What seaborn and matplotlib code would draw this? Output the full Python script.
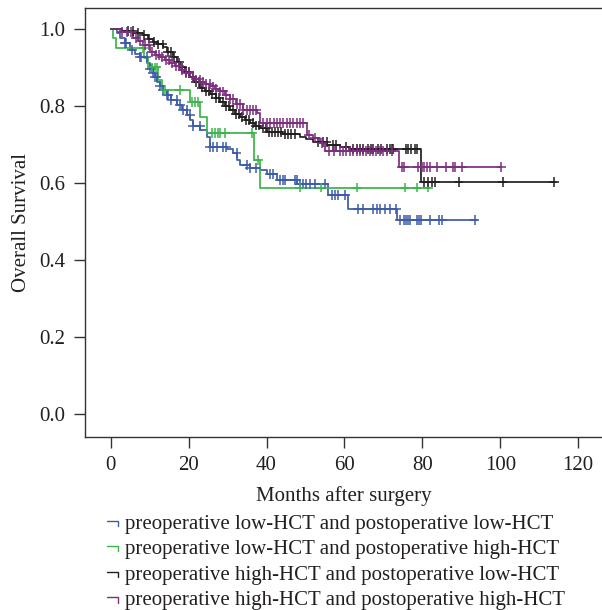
import numpy as np
import pandas as pd
import matplotlib
matplotlib.use('Agg')
import matplotlib.pyplot as plt
from matplotlib.legend_handler import HandlerBase
from matplotlib.lines import Line2D
import seaborn as sns

sns.set_theme(style='ticks')
plt.rcParams['font.family'] = ['Liberation Serif', 'DejaVu Serif']

# group names and colours
groups = ['preoperative low-HCT and postoperative low-HCT',
          'preoperative low-HCT and postoperative high-HCT',
          'preoperative high-HCT and postoperative low-HCT',
          'preoperative high-HCT and postoperative high-HCT']
colors = ['#3D5CA8', '#3CB54A', '#231F20', '#7D2E7F']

# step curves (time in months, survival after the step), last point = end of follow-up
low_low_t = [0, 1.5, 2.4, 3.7, 4.9, 6.3, 7.5, 9.3, 10.1, 10.8, 11.4, 12.0, 12.6, 13.5, 14.4,
             15.6, 17.0, 18.3, 19.6, 20.4, 21.1, 23.0, 24.7, 25.5, 29.8, 31.4, 32.4, 33.2,
             35.7, 38.3, 40.1, 42.6, 47.8, 55.7, 60.8, 73.4, 93.9]
low_low_s = [1.0, 0.99, 0.977, 0.964, 0.945, 0.935, 0.927, 0.912, 0.897, 0.886, 0.874, 0.862,
             0.852, 0.842, 0.829, 0.816, 0.803, 0.79, 0.777, 0.764, 0.748, 0.738, 0.72, 0.694,
             0.688, 0.678, 0.66, 0.647, 0.639, 0.634, 0.624, 0.608, 0.598, 0.569, 0.532,
             0.504, 0.504]

low_high_t = [0, 0.6, 1.4, 8.6, 9.6, 12.1, 13.2, 20.3, 22.9, 24.6, 36.9, 38.4, 81.9]
low_high_s = [1.0, 0.977, 0.95, 0.925, 0.90, 0.867, 0.842, 0.81, 0.771, 0.73, 0.66, 0.588, 0.588]

high_low_t = [0, 3.0, 6.0, 8.3, 9.5, 10.8, 12.0, 13.4, 14.5, 16.0, 17.0, 17.8, 19.0, 20.3,
              21.5, 22.9, 24.2, 25.5, 27.0, 28.0, 29.3, 30.6, 32.0, 33.2, 34.5, 35.7, 37.0,
              38.2, 40.0, 44.0, 48.5, 50.0, 51.9, 55.5, 58.8, 61.4, 79.6, 114.2]
high_low_s = [1.0, 0.995, 0.99, 0.984, 0.975, 0.966, 0.96, 0.952, 0.94, 0.927, 0.913, 0.90,
              0.888, 0.876, 0.862, 0.848, 0.838, 0.83, 0.82, 0.81, 0.80, 0.79, 0.78, 0.771,
              0.763, 0.756, 0.749, 0.742, 0.732, 0.727, 0.72, 0.713, 0.706, 0.699, 0.694,
              0.688, 0.603, 0.603]

high_high_t = [0, 2.5, 5.7, 7.0, 8.3, 10.1, 11.3, 12.6, 13.9, 15.2, 16.5, 17.8, 19.0, 20.3,
               21.6, 22.9, 24.2, 25.5, 26.8, 28.0, 29.3, 30.6, 32.2, 33.9, 37.5, 38.3, 50.3,
               51.9, 53.7, 55.0, 73.9, 100.3]
high_high_s = [1.0, 0.992, 0.977, 0.968, 0.958, 0.94, 0.933, 0.927, 0.92, 0.912, 0.903, 0.894,
               0.885, 0.876, 0.869, 0.863, 0.857, 0.851, 0.845, 0.838, 0.828, 0.818, 0.805,
               0.79, 0.782, 0.756, 0.725, 0.717, 0.704, 0.683, 0.642, 0.642]

# censored observations (months)
low_low_c = [3.7, 4.0, 5.4, 7.5, 7.9, 9.2, 10.1, 10.5, 10.9, 11.4, 11.8, 12.6, 13.5, 14.4,
             14.8, 15.6, 16.9, 17.8, 18.6, 19.5, 20.3, 21.2, 22.9, 25.5, 26.3, 27.2, 28.9,
             29.7, 32.3, 34.9, 35.7, 37.4, 40.8, 41.7, 43.4, 44.2, 44.7, 47.3, 47.7, 48.5,
             49.4, 50.2, 51.1, 52.4, 54.9, 56.7, 57.5, 58.3, 60.1, 63.4, 64.7, 67.2, 68.3,
             69.0, 70.3, 71.6, 73.2, 74.2, 75.2, 75.7, 76.2, 76.8, 78.5, 79.1, 79.6, 81.9,
             84.2, 85.0, 93.4]
low_high_c = [8.4, 10.5, 11.4, 11.8, 13.9, 17.8, 20.8, 21.6, 22.5, 25.9, 26.7, 27.6, 28.0,
              29.3, 36.2, 37.8, 48.5, 54.1, 63.1, 75.5, 78.5, 81.4]
high_low_c = [4.4, 5.8, 7.1, 8.6, 9.9, 11.2, 12.1, 13.3, 14.6, 15.4, 16.3, 17.5, 18.4, 19.2,
              20.1, 21.0, 21.8, 22.7, 23.5, 24.4, 25.2, 26.1, 27.0, 27.8, 28.7, 29.5, 30.4,
              31.3, 32.1, 33.0, 33.8, 34.7, 35.5, 36.4, 37.3, 38.1, 39.0, 39.8, 40.6, 41.3,
              42.1, 43.0, 43.8, 44.7, 45.5, 46.4, 47.3, 53.2, 54.5, 55.4, 57.1, 57.9, 60.5,
              62.2, 63.1, 63.9, 64.8, 66.1, 66.9, 67.4, 68.6, 69.5, 70.8, 71.6, 72.1, 72.5,
              75.9, 76.3, 77.2, 78.1, 78.5, 80.3, 81.4, 82.4, 83.2, 89.3, 100.6, 113.7]
high_high_c = [2.8, 4.1, 5.3, 6.4, 7.6, 8.8, 9.7, 10.6, 11.5, 12.4, 13.2, 14.1, 15.0, 15.8,
               16.7, 17.6, 18.4, 19.3, 20.2, 21.0, 21.9, 22.8, 23.6, 24.5, 25.4, 26.2, 27.1,
               28.0, 28.8, 29.7, 30.6, 31.4, 32.3, 33.2, 34.0, 34.9, 35.8, 36.6, 37.4, 39.2,
               40.1, 41.0, 41.8, 42.7, 43.4, 44.2, 45.2, 46.0, 46.8, 47.8, 48.5, 49.3, 50.8,
               52.5, 54.2, 56.0, 57.3, 58.8, 59.6, 60.5, 61.4, 62.2, 63.1, 63.9, 64.8, 65.6,
               66.5, 67.3, 68.2, 69.1, 69.9, 70.8, 72.1, 74.7, 75.2, 78.8, 79.8, 80.4, 81.2,
               82.0, 83.7, 86.0, 87.8, 88.3, 90.1, 100.3]

curves = [(low_low_t, low_low_s, low_low_c), (low_high_t, low_high_s, low_high_c),
          (high_low_t, high_low_s, high_low_c), (high_high_t, high_high_s, high_high_c)]

step_rows = []
cens_rows = []
for name, (t, s, c) in zip(groups, curves):
    for ti, si in zip(t, s):
        step_rows.append((name, ti, si))
    t_arr = np.array(t)
    for ci in c:
        idx = np.searchsorted(t_arr, ci, side='right') - 1
        cens_rows.append((name, ci, s[idx]))
steps = pd.DataFrame(step_rows, columns=['group', 'month', 'surv'])
cens = pd.DataFrame(cens_rows, columns=['group', 'month', 'surv'])

fig = plt.figure(figsize=(6.02, 6.10), dpi=100)
ax = fig.add_axes([85 / 602, 1 - 437 / 610, 1 - 85 / 602, (437 - 8) / 610])
palette = dict(zip(groups, colors))

sns.lineplot(data=steps, x='month', y='surv', hue='group', palette=palette, ax=ax,
             estimator=None, sort=False, drawstyle='steps-post', linewidth=1.25, legend=False)
sns.scatterplot(data=cens, x='month', y='surv', hue='group', palette=palette, ax=ax,
                marker='+', s=48, linewidth=1.1, legend=False, zorder=3)

ax.set_xlim(-6.6, 126.1)
ax.set_ylim(-0.0597, 1.0545)
ax.set_xticks([0, 20, 40, 60, 80, 100, 120])
ax.set_yticks([0.0, 0.2, 0.4, 0.6, 0.8, 1.0])
ax.set_yticklabels(['0.0', '0.2', '0.4', '0.6', '0.8', '1.0'])
ax.spines['right'].set_visible(False)
for sp in ['left', 'bottom', 'top']:
    ax.spines[sp].set_color('#333333')
    ax.spines[sp].set_linewidth(1.0)
ax.tick_params(direction='out', length=8, width=1.0, color='#333333', labelsize=15,
               labelcolor='#231F20', pad=6)
ax.set_xlabel('Months after surgery', fontsize=15, color='#231F20', labelpad=8)
ax.set_ylabel('Overall Survival', fontsize=15, color='#231F20', labelpad=6)


class StepHandler(HandlerBase):
    def create_artists(self, legend, orig_handle, xdescent, ydescent, width, height,
                       fontsize, trans):
        x0 = -xdescent
        y0 = -ydescent + height * 0.55
        line = Line2D([x0, x0 + width, x0 + width], [y0, y0, y0 - height * 0.35],
                      color=orig_handle.get_color(), linewidth=1.0, transform=trans)
        return [line]


handles = [Line2D([], [], color=c) for c in colors]
fig.legend(handles, groups, loc='upper left', bbox_to_anchor=(107 / 602, 1 - 514 / 610),
           frameon=False, fontsize=15, handlelength=0.55, handletextpad=0.3,
           labelspacing=0.29, borderpad=0, borderaxespad=0,
           handler_map={Line2D: StepHandler()}, labelcolor='#231F20')

fig.savefig('out.png', dpi=100)
